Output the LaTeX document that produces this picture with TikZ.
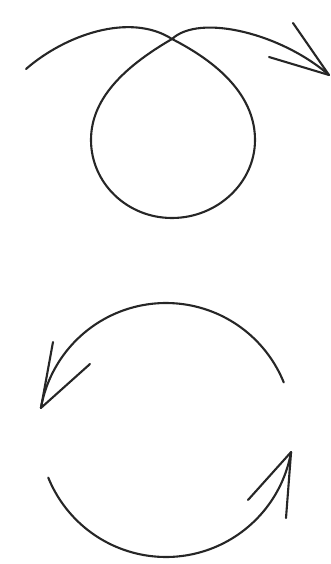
\documentclass[tikz,border=0pt]{standalone}
\begin{document}
\begin{tikzpicture}[x=1pt,y=-1pt,
  stroke/.style={line width=2.1pt,draw=black!85,line cap=round,line join=round}]
\useasboundingbox (0,0) rectangle (331,564);
% top loop
\coordinate (A) at (26,69);
\coordinate (C) at (172,39);
\coordinate (R) at (255,140);
\coordinate (B) at (172,218);
\coordinate (L) at (91,140);
\coordinate (T) at (329,75);
\draw[stroke] (A) .. controls (65,35) and (130,12) .. (C)
  .. controls (225,66) and (255,100) .. (R)
  .. controls (255,183) and (217,218) .. (B)
  .. controls (127,218) and (91,183) .. (L)
  .. controls (91,100) and (122,68) .. (C)
  .. controls (200,13) and (282,34) .. (T);
\coordinate (Tb1) at (293,23);
\coordinate (Tb2) at (269,57);
\draw[stroke] (Tb1) -- (T) -- (Tb2);
% bottom circle arrows
\draw[stroke] plot[domain=22:170,samples=80] ({166+127*cos(\x)},{430-127*sin(\x)});
\coordinate (U) at ({166+127*cos(170)},{430-127*sin(170)});
\coordinate (Ub1) at (53,342);
\coordinate (Ub2) at (90,364);
\draw[stroke] (Ub1) -- (U) -- (Ub2);
\draw[stroke] plot[domain=202:350,samples=80] ({166+127*cos(\x)},{430-127*sin(\x)});
\coordinate (V) at ({166+127*cos(350)},{430-127*sin(350)});
\coordinate (Vb1) at (248,500);
\coordinate (Vb2) at (286,518);
\draw[stroke] (Vb1) -- (V) -- (Vb2);
\end{tikzpicture}
\end{document}
